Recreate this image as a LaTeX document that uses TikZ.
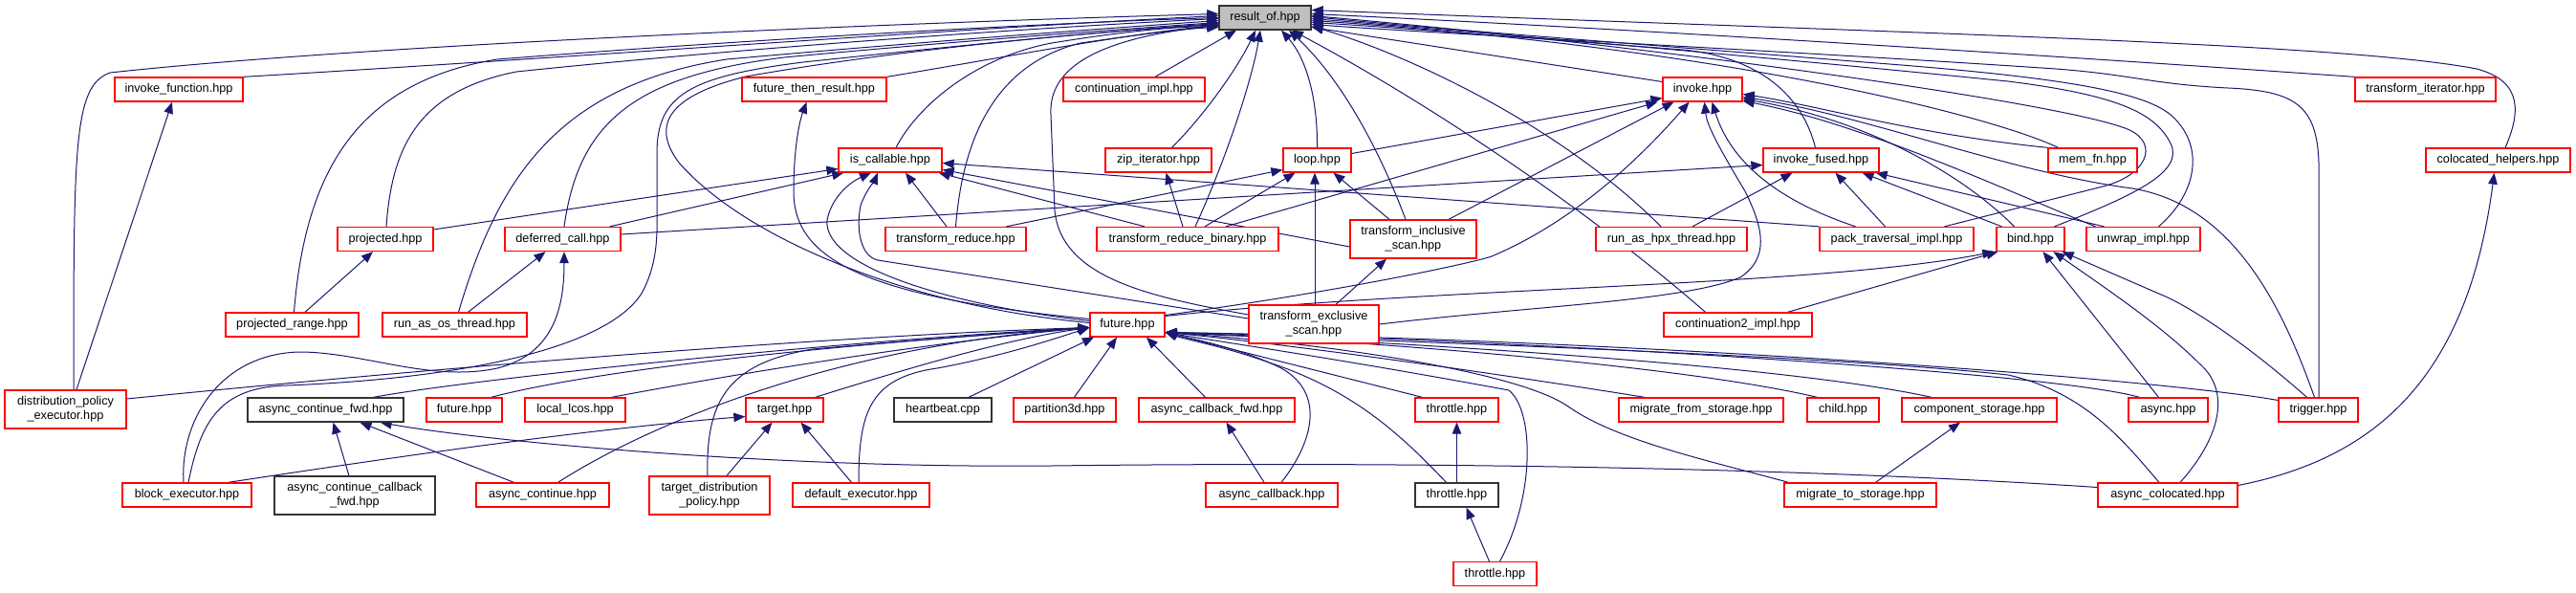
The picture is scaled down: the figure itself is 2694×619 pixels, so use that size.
\documentclass[tikz,border=0pt]{standalone}
\usepackage{fontspec}
\setmainfont{Liberation Sans}
\usetikzlibrary{arrows.meta,backgrounds}
\definecolor{edgec}{HTML}{191970}
\definecolor{redb}{HTML}{FF0000}
\newcommand\bx[7]{\node[#1, minimum width=#5pt, minimum height=#6pt] (#2) at (#3,#4) {#7};}
\begin{document}
\begin{tikzpicture}[x=1pt,y=-1pt,
  box/.style={draw=redb, fill=white, line width=1.3pt, inner sep=0pt, align=center, font=\fontsize{12.7}{15}\selectfont},
  blk/.style={box, draw=black!80},
  root/.style={box, draw=black!80, fill=black!25},
  e/.style={draw=edgec, line width=1pt, -{Triangle[length=12pt,width=9.5pt]}}]
\useasboundingbox (0,0) rectangle (2694,619);
% row 1
\bx{root}{R}{1323}{18.5}{96}{25}{result\_of.hpp}
% row 2
\bx{box}{IF}{187}{93.5}{134}{25}{invoke\_function.hpp}
\bx{box}{FTR}{851.5}{93.5}{151}{25}{future\_then\_result.hpp}
\bx{box}{CI}{1186}{93.5}{148}{25}{continuation\_impl.hpp}
\bx{box}{INV}{1780.5}{93.5}{83}{25}{invoke.hpp}
\bx{box}{TI}{2536.5}{93.5}{147}{25}{transform\_iterator.hpp}
% row 3
\bx{box}{IC}{931}{167.5}{108}{25}{is\_callable.hpp}
\bx{box}{ZIP}{1211.5}{167.5}{111}{25}{zip\_iterator.hpp}
\bx{box}{LOOP}{1377.5}{167.5}{71}{25}{loop.hpp}
\bx{box}{IFU}{1904.5}{167.5}{121}{25}{invoke\_fused.hpp}
\bx{box}{MEM}{2188.5}{167.5}{93}{25}{mem\_fn.hpp}
\bx{box}{CH}{2612.5}{167.5}{151}{25}{colocated\_helpers.hpp}
% row 4
\bx{box}{PJ}{403}{250}{100}{25}{projected.hpp}
\bx{box}{DC}{588.5}{250}{121}{25}{deferred\_call.hpp}
\bx{box}{TR}{999.5}{250}{147}{25}{transform\_reduce.hpp}
\bx{box}{TRB}{1242}{250}{190}{25}{transform\_reduce\_binary.hpp}
\bx{box}{TIS}{1478}{250}{132}{40}{transform\_inclusive\\\_scan.hpp}
\bx{box}{RHT}{1748}{250}{158}{25}{run\_as\_hpx\_thread.hpp}
\bx{box}{PTI}{1983.5}{250}{161}{25}{pack\_traversal\_impl.hpp}
\bx{box}{BIND}{2123.5}{250}{71}{25}{bind.hpp}
\bx{box}{UNW}{2241.5}{250}{119}{25}{unwrap\_impl.hpp}
% row 5
\bx{box}{PR}{305.5}{339.5}{139}{25}{projected\_range.hpp}
\bx{box}{ROT}{475.5}{339.5}{151}{25}{run\_as\_os\_thread.hpp}
\bx{box}{FUT}{1179}{339.5}{78}{25}{future.hpp}
\bx{box}{TES}{1374}{339}{136}{40}{transform\_exclusive\\\_scan.hpp}
\bx{box}{C2}{1817.5}{339.5}{155}{25}{continuation2\_impl.hpp}
% row 6
\bx{box}{DPE}{68.5}{428}{127}{40}{distribution\_policy\\\_executor.hpp}
\bx{blk}{ACF}{340.5}{428.5}{163}{25}{async\_continue\_fwd.hpp}
\bx{box}{FUT2}{485.5}{428.5}{79}{25}{future.hpp}
\bx{box}{LL}{601.5}{428.5}{105}{25}{local\_lcos.hpp}
\bx{box}{TGT}{820.5}{428.5}{81}{25}{target.hpp}
\bx{blk}{HB}{986}{428.5}{102}{25}{heartbeat.cpp}
\bx{box}{P3D}{1113.5}{428.5}{107}{25}{partition3d.hpp}
\bx{box}{ACBF}{1272.5}{428.5}{163}{25}{async\_callback\_fwd.hpp}
\bx{box}{THR}{1523.5}{428.5}{87}{25}{throttle.hpp}
\bx{box}{MFS}{1779}{428.5}{172}{25}{migrate\_from\_storage.hpp}
\bx{box}{CHILD}{1927.5}{428.5}{75}{25}{child.hpp}
\bx{box}{CS}{2070}{428.5}{162}{25}{component\_storage.hpp}
\bx{box}{ASYNC}{2267.5}{428.5}{83}{25}{async.hpp}
\bx{box}{TRIG}{2424.5}{428.5}{83}{25}{trigger.hpp}
% row 7
\bx{box}{BE}{195.5}{517.5}{135}{25}{block\_executor.hpp}
\bx{blk}{ACCF}{371}{518}{168}{40}{async\_continue\_callback\\\_fwd.hpp}
\bx{box}{AC}{567.5}{517.5}{139}{25}{async\_continue.hpp}
\bx{box}{TDP}{742}{518}{126}{40}{target\_distribution\\\_policy.hpp}
\bx{box}{DE}{900.5}{517.5}{143}{25}{default\_executor.hpp}
\bx{box}{ACB}{1330}{517.5}{138}{25}{async\_callback.hpp}
\bx{blk}{THB}{1523.5}{517.5}{87}{25}{throttle.hpp}
\bx{box}{MTS}{1945.5}{517.5}{159}{25}{migrate\_to\_storage.hpp}
\bx{box}{ACO}{2267}{517.5}{146}{25}{async\_colocated.hpp}
% row 8
\bx{box}{TH3}{1563.5}{600}{87}{25}{throttle.hpp}

\begin{scope}[on background layer]
\fill[white] (0,0) rectangle (2694,619);
% ---- into result_of
\draw[e] ([xshift=8.5pt]DPE.north) .. controls (77,150) and (77,90) .. (115,76) .. controls (400,45) and (1000,22) .. ([yshift=4pt]R.west);
\draw[e] (IF.north east) .. controls (600,60) and (1000,30) .. ([yshift=2pt]R.west);
\draw[e] ([xshift=2pt]PR.north) .. controls (320,170) and (380,85) .. (520,62) .. controls (800,40) and (1100,24) .. (R.west);
\draw[e] ([xshift=1pt]PJ.north) .. controls (410,150) and (440,95) .. (540,75) .. controls (800,48) and (1100,28) .. ([yshift=-1pt]R.west);
\draw[e] ([xshift=4pt]ROT.north) .. controls (520,190) and (580,90) .. (760,62) .. controls (950,45) and (1150,30) .. ([yshift=-3pt]R.west);
\draw[e] ([xshift=1.5pt]DC.north) .. controls (605,130) and (660,80) .. (820,60) .. controls (980,45) and (1150,32) .. ([yshift=-5pt]R.west);
\draw[e] ([xshift=1.5pt]BE.north) .. controls (210,440) and (230,405) .. (300,403) .. controls (500,395) and (640,360) .. (672,305) .. controls (690,270) and (687,240) .. (687,200) -- (687,160) .. controls (687,100) and (720,80) .. (840,65) .. controls (1000,48) and (1150,33) .. ([yshift=-6pt]R.west);
\draw[e] ([yshift=2pt]FUT.west) .. controls (950,320) and (780,250) .. (710,170) .. controls (680,130) and (700,100) .. (780,80) .. controls (950,50) and (1150,33) .. ([yshift=-7pt]R.west);
\draw[e] (FTR.north east) .. controls (1050,60) and (1180,35) .. ([yshift=-8pt]R.west);
\draw[e] ([xshift=22pt]CI.north) -- ([xshift=-30pt]R.south);
\draw[e] ([xshift=6pt]IC.north) .. controls (960,110) and (1020,60) .. (1100,45) .. controls (1180,32) and (1230,28) .. ([yshift=-9pt]R.west);
\draw[e] (TR.north) .. controls (1008,130) and (1050,65) .. (1130,45) .. controls (1200,35) and (1240,30) .. ([yshift=-10pt]R.west);
\draw[e] ([xshift=14pt]ZIP.north) .. controls (1260,120) and (1295,70) .. ([xshift=-10pt]R.south);
\draw[e] ([xshift=8pt]TRB.north) .. controls (1285,160) and (1310,80) .. ([xshift=-5pt]R.south);
\draw[e] (LOOP.north) .. controls (1378,100) and (1365,60) .. ([xshift=17pt]R.south);
\draw[e] ([xshift=-8pt]TIS.north) .. controls (1440,150) and (1400,80) .. ([xshift=25pt]R.south);
\draw[e] ([yshift=10pt]TES.west) .. controls (1200,310) and (1110,290) .. (1103,220) -- (1099,120) .. controls (1096,70) and (1150,40) .. ([yshift=-8pt]R.west);
\draw[e] ([yshift=8pt]INV.west) -- ([yshift=-10pt]R.east);
\draw[e] ([xshift=-11pt]RHT.north) .. controls (1620,120) and (1450,50) .. ([yshift=-9pt]R.east);
\draw[e] ([xshift=-34pt]C2.north) .. controls (1650,210) and (1480,100) .. ([xshift=28pt]R.south);
\draw[e] (TI.north west) .. controls (2100,55) and (1700,30) .. ([yshift=4pt]R.east);
\draw[e] ([xshift=-6pt]IFU.north) .. controls (1885,100) and (1840,60) .. (1760,52) .. controls (1600,40) and (1450,28) .. ([yshift=-5pt]R.east);
\draw[e] ([xshift=-36pt]MEM.north) .. controls (2080,120) and (1800,50) .. ([yshift=-3pt]R.east);
\draw[e] ([xshift=25pt]BIND.north) .. controls (2230,205) and (2285,180) .. (2270,150) .. controls (2255,120) and (2220,100) .. (2100,85) .. controls (1800,55) and (1500,30) .. ([yshift=-1pt]R.east);
\draw[e] ([xshift=16pt]UNW.north) .. controls (2300,200) and (2305,150) .. (2270,120) .. controls (2240,95) and (2150,80) .. (1950,65) .. controls (1700,45) and (1500,30) .. ([yshift=1pt]R.east);
\draw[e] ([xshift=50pt]PTI.north) -- (2195,196) .. controls (2245,185) and (2260,150) .. (2225,135) .. controls (2150,105) and (1700,45) .. ([yshift=2pt]R.east);
\draw[e] ([xshift=0.5pt]TRIG.north) -- (2425,170) .. controls (2423,110) and (2400,95) .. (2330,92) .. controls (2250,88) and (2230,78) .. (2150,72) .. controls (1900,55) and (1500,35) .. ([yshift=-7pt]R.east);
\draw[e] ([xshift=7.5pt]CH.north) .. controls (2635,120) and (2640,85) .. (2590,72) .. controls (2450,45) and (2000,35) .. ([yshift=8pt]R.east);
% ---- upper level
\draw[e] ([xshift=11.5pt]DPE.north) -- ([xshift=-7pt]IF.south);
\draw[e] ([xshift=13.5pt]PR.north) -- ([xshift=-13pt]PJ.south);
\draw[e] ([yshift=10pt]PJ.east) -- ([yshift=-9pt]IC.west);
\draw[e] ([xshift=-12pt]DC.north east) -- ([xshift=6pt]IC.south west);
\draw[e] ([yshift=5pt]DC.east) -- ([yshift=-5pt]IFU.west);
\draw[e] ([xshift=14pt]ROT.north) -- ([xshift=-18pt]DC.south);
\draw[e] ([xshift=-3.5pt]BE.north) .. controls (188,440) and (230,370) .. (313,368) .. controls (380,368) and (450,400) .. (520,385) .. controls (580,370) and (590,320) .. ([xshift=1.5pt]DC.south);
\draw[e] ([xshift=43pt]BE.north) .. controls (400,480) and (600,450) .. ([yshift=-7pt]TGT.west);
\draw[e] ([yshift=4pt]FUT.west) .. controls (1000,320) and (860,280) .. (865,230) .. controls (870,205) and (890,190) .. ([xshift=-20pt]IC.south);
\draw[e] ([yshift=6pt]FUT.west) .. controls (900,310) and (830,270) .. (830,200) .. controls (830,160) and (835,130) .. ([xshift=-8pt]FTR.south);
\draw[e] ([xshift=-9.5pt]TR.north) -- ([xshift=16pt]IC.south);
\draw[e] ([xshift=-45pt]TRB.north) -- ([xshift=-4pt]IC.south east);
\draw[e] ([yshift=6pt]TES.west) -- (918,272) .. controls (900,268) and (895,240) .. (900,215) .. controls (905,200) and (915,188) .. ([xshift=-13pt]IC.south);
\draw[e] ([yshift=-8pt]TIS.west) -- ([yshift=-10pt]IC.east);
\draw[e] (PTI.north west) -- ([yshift=-3pt]IC.east);
\draw[e] ([xshift=53pt]TR.north) -- ([yshift=-10pt]LOOP.west);
\draw[e] ([xshift=18pt]TRB.north) -- ([xshift=-23pt]LOOP.south);
\draw[e] ([xshift=-5pt]TRB.north) -- ([xshift=8pt]ZIP.south);
\draw[e] ([xshift=40pt]TRB.north) -- ([xshift=-5pt]INV.south west);
\draw[e] ([yshift=7pt]LOOP.east) -- ([yshift=-9pt]INV.west);
\draw[e] ([xshift=37pt]TIS.north) -- ([xshift=-30pt]INV.south);
\draw[e] ([yshift=10pt]FUT.east) .. controls (1400,305) and (1540,275) .. (1560,268) .. controls (1650,230) and (1720,160) .. ([xshift=-14pt]INV.south);
\draw[e] ([yshift=9pt]FUT.east) .. controls (1500,300) and (1900,300) .. ([xshift=-2pt]BIND.south west);
\draw[e] (TES.east) .. controls (1600,320) and (1760,315) .. (1820,290) .. controls (1850,270) and (1845,240) .. (1825,200) .. controls (1795,150) and (1785,130) .. ([xshift=2pt]INV.south);
\draw[e] ([xshift=52pt]C2.north) -- ([xshift=2pt]BIND.south west);
\draw[e] ([xshift=22pt]RHT.north) -- ([xshift=-30pt]IFU.south);
\draw[e] ([xshift=-12pt]PTI.north) -- ([xshift=15pt]IFU.south);
\draw[e] ([xshift=-43pt]PTI.north) .. controls (1860,210) and (1810,170) .. ([xshift=10pt]INV.south);
\draw[e] ([xshift=-30pt]BIND.north) -- ([xshift=43pt]IFU.south);
\draw[e] ([xshift=-17pt]BIND.north) .. controls (2050,180) and (1950,125) .. ([yshift=-10pt]INV.east);
\draw[e] ([xshift=-41pt]UNW.north) -- ([xshift=-4pt]IFU.south east);
\draw[e] ([xshift=-50pt]UNW.north) .. controls (2100,200) and (1950,130) .. ([yshift=-12pt]INV.east);
\draw[e] (MEM.north west) .. controls (2000,140) and (1900,110) .. ([yshift=-5pt]INV.east);
\draw[e] ([xshift=-4pt]TRIG.north) .. controls (2390,330) and (2340,215) .. (2230,197) .. controls (2100,180) and (1950,120) .. ([yshift=-8pt]INV.east);
\draw[e] ([xshift=-12pt]TRIG.north) .. controls (2350,360) and (2290,320) .. (2260,308) -- ([xshift=-3pt]BIND.south east);
\draw[e] ([xshift=-10pt]ASYNC.north) -- ([xshift=13pt]BIND.south);
\draw[e] ([xshift=13pt]ACO.north) .. controls (2320,460) and (2335,410) .. (2300,380) .. controls (2260,340) and (2200,300) .. ([xshift=24pt]BIND.south);
\draw[e] ([xshift=-25pt]TIS.north) -- ([xshift=17pt]LOOP.south);
\draw[e] ([xshift=1pt]TES.north) -- ([xshift=-2.5pt]LOOP.south);
\draw[e] ([xshift=23pt]TES.north) -- ([xshift=-28pt]TIS.south);
% ---- into future.hpp
\draw[e] ([yshift=11pt]DPE.east) .. controls (500,380) and (900,350) .. ([yshift=-3pt]FUT.west);
\draw[e] ([xshift=50pt]ACF.north) .. controls (500,395) and (900,355) .. ([yshift=-3pt]FUT.west);
\draw[e] ([xshift=28pt]FUT2.north) .. controls (650,380) and (950,355) .. ([yshift=-3pt]FUT.west);
\draw[e] ([xshift=38pt]LL.north) .. controls (800,385) and (1000,355) .. ([yshift=-3pt]FUT.west);
\draw[e] ([xshift=32pt]TGT.north) .. controls (950,385) and (1050,355) .. ([yshift=-3pt]FUT.west);
\draw[e] ([xshift=16pt]AC.north) .. controls (700,430) and (900,360) .. ([yshift=-3pt]FUT.west);
\draw[e] ([xshift=-2pt]TDP.north) .. controls (738,420) and (760,380) .. (850,365) .. controls (1000,352) and (1100,345) .. ([yshift=-3pt]FUT.west);
\draw[e] ([xshift=-2.5pt]DE.north) .. controls (898,430) and (910,395) .. (980,385) .. controls (1050,372) and (1100,355) .. ([yshift=-3pt]FUT.west);
\draw[e] ([xshift=-10pt]DE.north) -- ([xshift=17pt]TGT.south);
\draw[e] ([xshift=18pt]TDP.north) -- ([xshift=-13pt]TGT.south);
\draw[e] ([xshift=27pt]HB.north) -- ([xshift=-35pt]FUT.south);
\draw[e] ([xshift=10pt]P3D.north) -- ([xshift=-11pt]FUT.south);
\draw[e] ([xshift=-12pt]ACBF.north) -- ([xshift=20pt]FUT.south);
\draw[e] ([xshift=-8pt]ACB.north) -- ([xshift=10pt]ACBF.south);
\draw[e] ([xshift=10pt]ACB.north) .. controls (1375,460) and (1385,410) .. (1340,385) .. controls (1300,365) and (1250,355) .. ([yshift=-8pt]FUT.east);
\draw[e] ([xshift=-36pt]THR.north) -- ([yshift=-8pt]FUT.east);
\draw[e] (THB.north) -- (THR.south);
\draw[e] ([xshift=-11pt]THB.north) .. controls (1470,460) and (1420,410) .. (1330,380) .. controls (1280,362) and (1240,355) .. ([yshift=-8pt]FUT.east);
\draw[e] ([xshift=-6pt]TH3.north) -- ([xshift=10pt]THB.south);
\draw[e] ([xshift=5pt]TH3.north) .. controls (1605,520) and (1605,430) .. (1578,408) .. controls (1400,375) and (1280,358) .. ([yshift=-8pt]FUT.east);
\draw[e] ([xshift=-59pt]MFS.north) .. controls (1500,380) and (1300,355) .. ([yshift=-8pt]FUT.east);
\draw[e] ([xshift=-75pt]MTS.north) .. controls (1780,480) and (1690,460) .. (1640,425) .. controls (1590,390) and (1400,360) .. ([yshift=-8pt]FUT.east);
\draw[e] ([xshift=16pt]MTS.north) -- ([xshift=-20pt]CS.south);
\draw[e] ([xshift=-27pt]CHILD.north) .. controls (1750,380) and (1400,355) .. ([yshift=-8pt]FUT.east);
\draw[e] ([xshift=-50pt]CS.north) .. controls (1850,378) and (1400,355) .. ([yshift=-8pt]FUT.east);
\draw[e] ([xshift=-30pt]ASYNC.north) .. controls (2150,390) and (1600,355) .. ([yshift=-8pt]FUT.east);
\draw[e] ([yshift=10pt]TRIG.west) .. controls (2250,395) and (1700,355) .. ([yshift=-8pt]FUT.east);
\draw[e] ([xshift=-9pt]ACO.north) .. controls (2220,460) and (2180,410) .. (2100,392) .. controls (1900,370) and (1400,355) .. ([yshift=-8pt]FUT.east);
\draw[e] ([yshift=8pt]ACO.west) .. controls (1900,490) and (1500,482) .. (1100,487) .. controls (800,490) and (500,460) .. ([xshift=-25pt]ACF.south east);
\draw[e] ([yshift=10pt]ACO.east) .. controls (2480,480) and (2580,400) .. ([xshift=-4pt]CH.south);
\draw[e] ([xshift=-30pt]AC.north) -- ([xshift=36pt]ACF.south);
\draw[e] ([xshift=-6pt]ACCF.north) -- ([xshift=8pt]ACF.south);
\end{scope}
\end{tikzpicture}
\end{document}
